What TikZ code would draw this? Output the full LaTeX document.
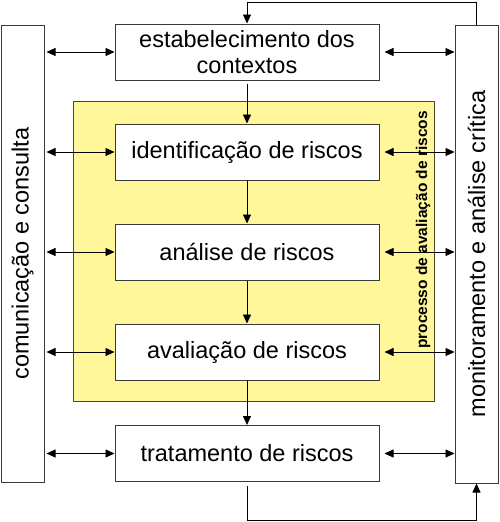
\documentclass[tikz,border=0pt]{standalone}
\usepackage{fontspec}
\setmainfont{Liberation Sans}
\usetikzlibrary{arrows.meta}
\definecolor{lineg}{HTML}{3A3A3A}
\definecolor{yel}{HTML}{FFF799}
\definecolor{yelb}{HTML}{4A4A30}
\begin{document}
\begin{tikzpicture}[x=1pt,y=-1pt,
  font=\fontsize{23.5}{26}\selectfont,
  box/.style={draw=lineg, line width=1pt, fill=white, minimum width=264pt,
    minimum height=56pt, inner sep=0pt, align=center},
  arr/.style={draw=black, line width=0.8pt, -{Triangle[length=9pt,width=8pt]}},
  dbl/.style={draw=black, line width=0.8pt,
    {Triangle[length=9pt,width=8pt]}-{Triangle[length=9pt,width=8pt]}},
  side/.style={draw=lineg, line width=1pt, fill=white, inner sep=0pt}]
\useasboundingbox (0,0) rectangle (500,522);
\coordinate (topy) at (0,2);
\coordinate (boty) at (0,520);
% side boxes
\node[side, minimum width=43pt, minimum height=457pt] (L) at (22.5,253.5) {};
\node[rotate=90] (Lt) at (L.center) {comunicação e consulta};
\node[side, minimum width=43pt, minimum height=458pt] (R) at (476.5,254) {};
\node[rotate=90] (Rt) at (R.center) {monitoramento e análise crítica};
% yellow process area
\node[draw=yelb, fill=yel, line width=0.8pt, minimum width=361pt,
  minimum height=300pt, inner sep=0pt] (Y) at (253.5,251) {};
\node[rotate=90, font=\fontsize{15.5}{18}\selectfont\bfseries] (Yt) at (423,230)
  {processo de avaliação de riscos};
% main boxes
\node[box] (ctx) at (247,52) {estabelecimento dos\\contextos};
\node[box] (id) at (247,152) {identificação de riscos};
\node[box] (an) at (247,252) {análise de riscos};
\node[box] (av) at (247,352) {avaliação de riscos};
\node[box] (tr) at (247,453.5) {tratamento de riscos};
% flow
\draw[arr] ([yshift=-3pt]ctx.south) -- (id.north);
\draw[arr] (id.south) -- (an.north);
\draw[arr] (an.south) -- (av.north);
\draw[arr] (av.south) -- (tr.north);
% feedback loops
\draw[arr] (R.north) -- (R.north |- topy) -- (ctx.north |- topy) -- (ctx.north);
\draw[arr] ([yshift=-4pt]tr.south) -- (tr.south |- boty) -- (R.south |- boty) -- (R.south);
% communication arrows
\foreach \b in {ctx,id,an,av,tr}{
  \draw[dbl, shorten <=2pt] (L.east |- \b.west) -- (\b.west);
  \draw[dbl, shorten <=5pt] (\b.east) -- (R.west |- \b.east);
}
\end{tikzpicture}
\end{document}
